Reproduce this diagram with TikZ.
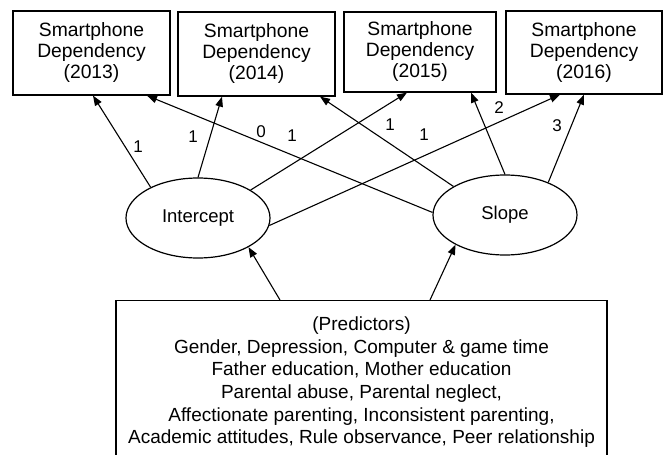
\documentclass[tikz,border=0pt]{standalone}
\usepackage{fontspec}
\setmainfont{Liberation Sans}
\usetikzlibrary{shapes.geometric,arrows.meta}
\begin{document}
\begin{tikzpicture}[x=1pt,y=-1pt,
  dep/.style={draw, line width=1.2pt, minimum width=157pt, minimum height=84pt, align=center, inner sep=0pt, font=\fontsize{19.3}{21}\selectfont},
  lat/.style={draw, ellipse, line width=1.2pt, minimum width=144pt, minimum height=80pt, inner sep=0pt, font=\fontsize{18.5}{21}\selectfont},
  conn/.style={line width=1.1pt, -{Triangle[length=10pt,width=7.5pt]}},
  lbl/.style={inner sep=0pt, font=\fontsize{17}{20}\selectfont}
]
\useasboundingbox (0,0) rectangle (670,455);
\clip (0,0) rectangle (670,455);
\node[dep] (b1) at (91.5,53) {Smartphone\\Dependency\\(2013)};
\node[dep] (b2) at (256.5,54) {Smartphone\\Dependency\\(2014)};
\node[dep, minimum width=152pt, minimum height=80pt] (b3) at (420,52) {Smartphone\\Dependency\\(2015)};
\node[dep, minimum width=156pt, minimum height=83pt] (b4) at (584,52.5) {Smartphone\\Dependency\\(2016)};
\node[lat] (int) at (198,218) {Intercept};
\node[lat] (slp) at (505,215) {Slope};
\node[draw, line width=1.2pt, anchor=north, minimum width=491pt, inner xsep=0pt, inner ysep=16pt, align=center, font=\fontsize{19}{22.7}\selectfont] (pred) at (361.5,300) {(Predictors)\\Gender, Depression, Computer \& game time\\Father education, Mother education\\Parental abuse, Parental neglect,\\Affectionate parenting, Inconsistent parenting,\\Academic attitudes, Rule observance, Peer relationship};
\draw[conn] (int.147) -- ([xshift=1.5pt]b1.south);
\draw[conn] (int.90) -- ([xshift=-34.5pt]b2.south);
\draw[conn] (slp.178) -- ([xshift=55.5pt]b1.south);
\draw[conn] (int.28) -- ([xshift=-13pt]b3.south);
\draw[conn] (slp.151) -- ([xshift=63.5pt]b2.south);
\draw[conn] (int.-6) -- ([xshift=-24pt]b4.south);
\draw[conn] (slp.90) -- ([xshift=51pt]b3.south);
\draw[conn] (slp.37) -- (b4.south);
\draw[conn] ([xshift=-81.5pt]pred.north) -- (int.-30);
\draw[conn] ([xshift=68.5pt]pred.north) -- (slp.211);
\node[lbl] (l1) at (138,147) {1};
\node[lbl] (l2) at (193,137) {1};
\node[lbl] (l3) at (261,132) {0};
\node[lbl] (l4) at (292,136) {1};
\node[lbl] (l5) at (390,125) {1};
\node[lbl] (l6) at (424,135) {1};
\node[lbl] (l7) at (499,108) {2};
\node[lbl] (l8) at (557,126) {3};
\end{tikzpicture}
\end{document}
